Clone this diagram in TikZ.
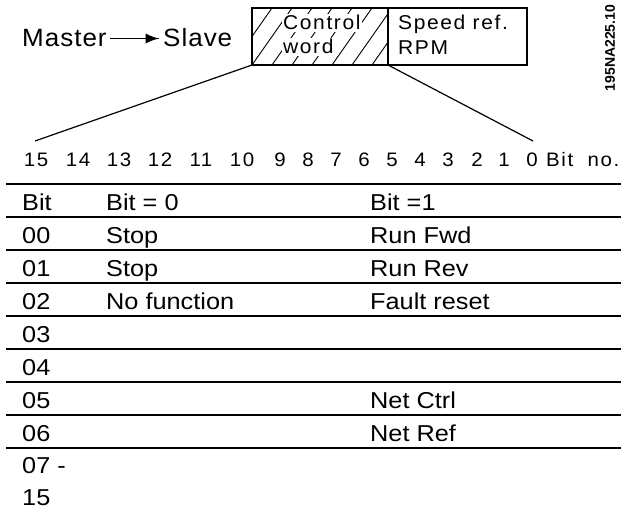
\documentclass[tikz,border=0pt]{standalone}
\usepackage{fontspec}
\setmainfont{Liberation Sans}
\newfontfamily\cadfont[LetterSpace=8,FakeStretch=1.05]{Liberation Sans}
\newfontfamily\bigcadfont[LetterSpace=4,FakeStretch=1.04]{Liberation Sans}
\newfontfamily\tabfont[FakeStretch=1.1]{Liberation Sans}
\usepackage{tikz}
\usetikzlibrary{shapes,arrows}
\usetikzlibrary{arrows,decorations.markings}
\tikzstyle{arrow} = [decoration={markings,mark=at position 1 with
	{\arrow[scale=2.2,>=latex]{>}}},postaction={decorate}]
\tikzstyle{cell} = [draw, line width=1.3pt, inner sep=0pt, outer sep=0pt]
\tikzstyle{hatch} = [line width=0.9pt]
\tikzstyle{conn} = [line width=1.2pt]
\tikzstyle{rule} = [line width=1.7pt]
\tikzstyle{cad} = [inner sep=0pt, anchor=base west, font=\cadfont\fontsize{20}{22}\selectfont]
\tikzstyle{bitnum} = [inner sep=0pt, anchor=base, font=\cadfont\fontsize{19.5}{21}\selectfont]
\tikzstyle{tab} = [inner sep=0pt, anchor=base west, font=\tabfont\fontsize{23}{25}\selectfont]

\begin{document}
\begin{tikzpicture}[x=1pt, y=-1pt]
			\useasboundingbox (0,0) rectangle (621,511);
			
			% telegram header
			\node [inner sep=3pt, anchor=base west, font=\bigcadfont\fontsize{25}{27}\selectfont] (master) at (19,47) {Master};
			\node [inner sep=4pt, anchor=base west, font=\bigcadfont\fontsize{25}{27}\selectfont] (slave) at (159,47) {Slave};
			\draw [line width=1.1pt, arrow] (master.east) -- (master.east -| slave.west);
			
			\node [cell, minimum width=136pt, minimum height=57pt] (cw) at (320,36.5) {};
			\node [cell, minimum width=139pt, minimum height=57pt] (sr) at (457.5,36.5) {};
			\begin{scope}
			\clip (cw.south west) rectangle (cw.north east);
			\foreach \h in {-40,-20,...,160}{
				\draw [hatch] ([xshift=\h pt]cw.south west) -- ++(40,-57);
			}
			\end{scope}
			\node [cad, fill=white, inner sep=1.5pt] (ctrl) at (281.5,30) {Control};
			\node [cad, fill=white, inner sep=1.5pt] (word) at (281.5,54) {word};
			\node [cad] (speed) at (398,30) {Speed\ ref.};
			\node [cad] (rpm)   at (398,55) {RPM};
			
			\node [rotate=90, inner sep=0pt, font=\bfseries\fontsize{14}{15}\selectfont] (code) at (610,48) {195NA225.10};
			
			% bit numbers
			\foreach \n/\x in {15/36,14/78,13/119,12/160,11/201,10/242,9/280,8/308,7/336,6/364,5/392,4/420,3/448,2/477,1/504,0/532}{
				\node [bitnum] (n\n) at (\x,166) {\n};
			}
			\node [cad, font=\cadfont\fontsize{19.5}{21}\selectfont] (bitno) at (546,166) {Bit\ \ no.};
			
			\coordinate (e15) at (35,141);
			\coordinate (e0)  at (533,141);
			\draw [conn] (cw.south west) -- (e15);
			\draw [conn] (cw.south east) -- (e0);
			
			% table
			\foreach \r in {0,...,8}{
				\draw [rule] (6,184+33*\r) -- (621,184+33*\r);
			}
			\foreach \a/\b/\c [count=\i from 0] in {Bit/{Bit = 0}/{Bit =1},00/Stop/{Run Fwd},01/Stop/{Run Rev},02/{No function}/{Fault reset},03//,04//,05//{Net Ctrl},06//{Net Ref}}{
				\node [tab] (a\i) at (22,210+33*\i) {\a};
				\node [tab] (b\i) at (106,210+33*\i) {\b};
				\node [tab] (c\i) at (370,210+33*\i) {\c};
			}
			\node [tab] (a8) at (22,473) {07 -};
			\node [tab] (a9) at (22,505) {15};
			
\end{tikzpicture}
\end{document}
